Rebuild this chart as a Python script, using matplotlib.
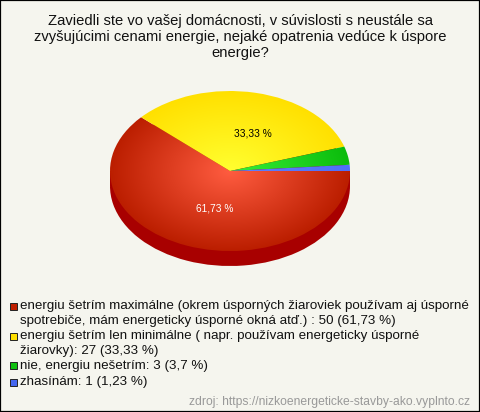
import numpy as np
import matplotlib
matplotlib.use("Agg")
import matplotlib.pyplot as plt
from matplotlib.colors import LinearSegmentedColormap
from matplotlib.patches import Rectangle

W, H = 480, 412
BG = "#f5f5ee"

title_lines = ["Zaviedli ste vo vašej domácnosti, v súvislosti s neustále sa",
               "zvyšujúcimi cenami energie, nejaké opatrenia vedúce k úspore",
               "energie?"]
counts = [50, 27, 3, 1]
pct_labels = ["61,73 %", "33,33 %"]
legend_lines = [["energiu šetrím maximálne (okrem úsporných žiaroviek používam aj úsporné",
                 "spotrebiče, mám energeticky úsporné okná atď.) : 50 (61,73 %)"],
                ["energiu šetrím len minimálne ( napr. používam energeticky úsporné",
                 "žiarovky): 27 (33,33 %)"],
                ["nie, energiu nešetrím: 3 (3,7 %)"],
                ["zhasínám: 1 (1,23 %)"]]
legend_colors = ["#c02000", "#ffe000", "#0fc00f", "#4466ee"]
centre_colors = ["#ff5c40", "#ffff30", "#38f038", "#6080ff"]
edge_colors = ["#bb1e00", "#ffe000", "#0cbc0c", "#5070f8"]
source = "zdroj: https://nizkoenergeticke-stavby-ako.vyplnto.cz"

plt.rcParams["font.family"] = ["Liberation Sans", "DejaVu Sans"]

fig = plt.figure(figsize=(W / 100, H / 100), dpi=100, facecolor=BG)


def px_text(x, y, s, **kw):
    fig.text(x / W, 1 - y / H, s, va="center", **kw)


# pie: 240x160 px top face, 15 px deep
depth = 15 / 80
ax = fig.add_axes([110 / W, 1 - 267 / H, 240 / W, 176 / H])
ax.pie(counts, startangle=0, counterclock=False, colors=["#a80000"] * 4,
       center=(0, -depth), wedgeprops={"linewidth": 0})
ax.add_patch(Rectangle((-1, -depth), 2, depth, color="#a80000", lw=0))
wedges, _ = ax.pie(counts, startangle=0, counterclock=False, colors=["none"] * 4,
                   wedgeprops={"linewidth": 0})

# radial shading inside each slice
yy, xx = np.mgrid[-1:1:300j, -1:1:300j]
rr = np.clip(np.hypot(xx, yy), 0, 1)
for w, c0, c1 in zip(wedges, centre_colors, edge_colors):
    cmap = LinearSegmentedColormap.from_list("s", [c0, c1])
    im = ax.imshow(rr, cmap=cmap, vmin=0, vmax=1, extent=(-1, 1, -1, 1),
                   origin="lower", zorder=2, interpolation="bilinear")
    im.set_clip_path(w)
ax.set_aspect("auto")
ax.set_xlim(-1, 1)
ax.set_ylim(-1 - depth - 1 / 80, 1)
ax.axis("off")

px_text(215, 208.5, pct_labels[0], color="white", ha="center", fontsize=7.3)
px_text(253, 133.5, pct_labels[1], color="black", ha="center", fontsize=7.3)

# title
for y, line in zip([21, 37, 52.5], title_lines):
    px_text(240, y, line, color="#111111", ha="center", fontsize=10.6)

# legend
legend_y = [[306.5, 321], [336.5, 351], [366], [382.5]]
for ys, lines, col in zip(legend_y, legend_lines, legend_colors):
    fig.add_artist(Rectangle((9.5 / W, 1 - (ys[0] + 3) / H), 7 / W, 7 / H, facecolor=col,
                             edgecolor="#222222", lw=0.7, transform=fig.transFigure))
    for y, line in zip(ys, lines):
        px_text(20, y, line, color="#111111", ha="left", fontsize=9.6)

px_text(470, 401.5, source, color="#999999", ha="right", fontsize=8.7)

# outer frame
fig.add_artist(Rectangle((0, 0), 1, 1, fill=False, edgecolor="black", lw=1.6,
                         transform=fig.transFigure))

fig.savefig("out.png", dpi=100, facecolor=BG)
